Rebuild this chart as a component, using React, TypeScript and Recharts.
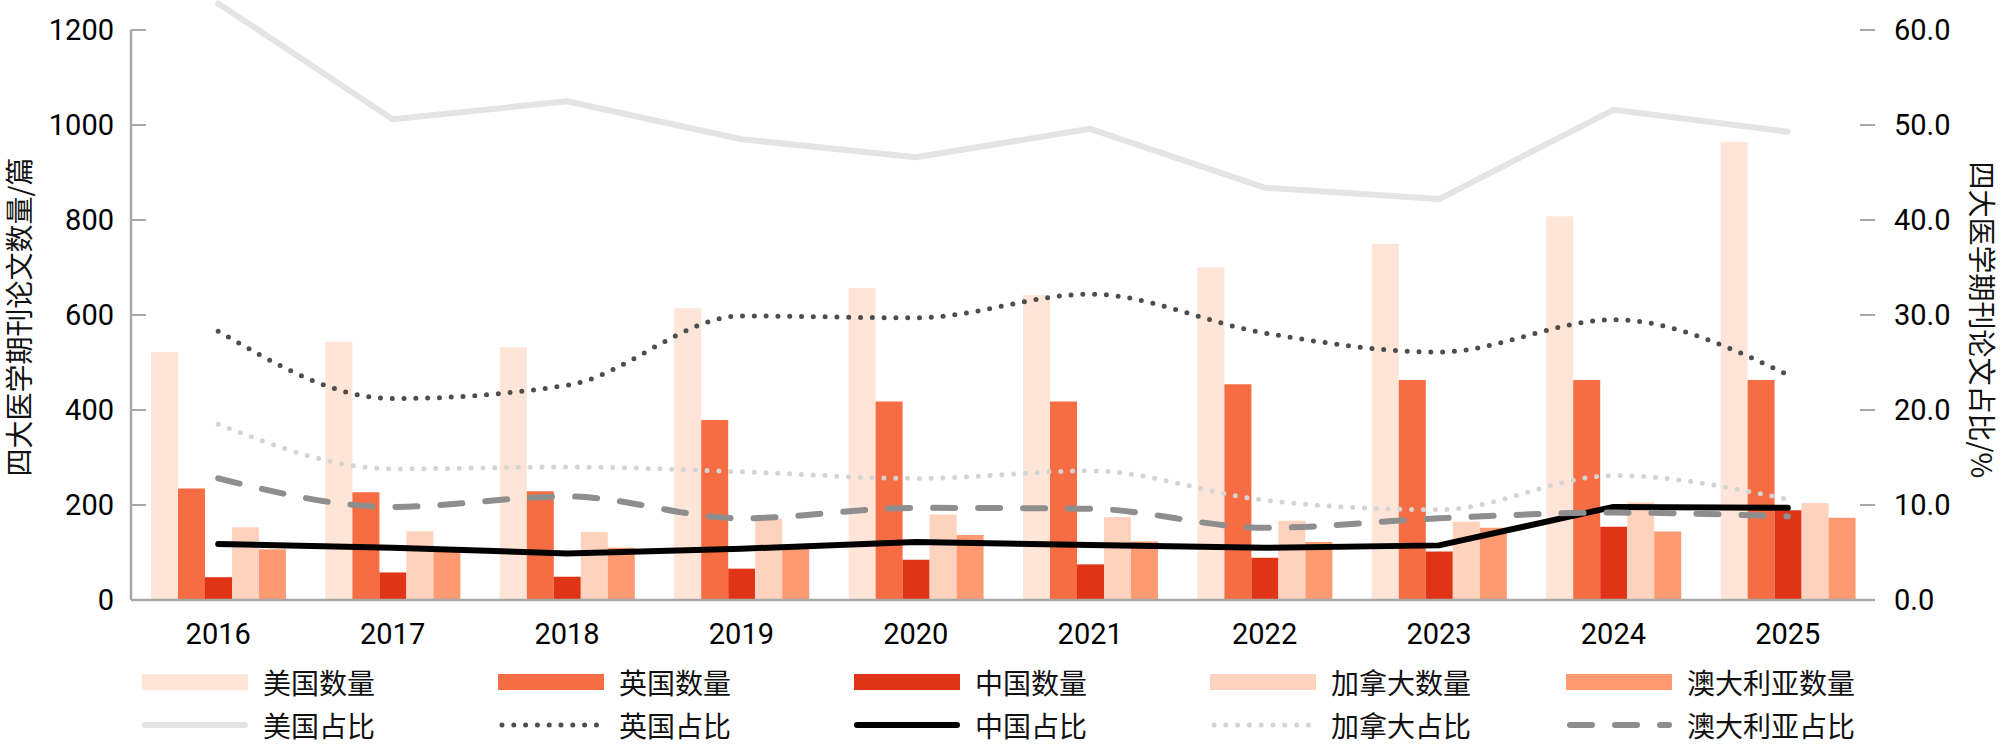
import React from 'react';
import {
  ComposedChart,
  Bar,
  Line,
  XAxis,
  YAxis,
  Legend,
  ReferenceLine,
} from 'recharts';

// 年份
const years = ['2016', '2017', '2018', '2019', '2020', '2021', '2022', '2023', '2024', '2025'];

// 四大医学期刊论文数量/篇
const usCount = [522, 543, 532, 614, 657, 642, 700, 750, 808, 964];
const ukCount = [235, 227, 229, 379, 418, 418, 454, 463, 463, 463];
const cnCount = [48, 58, 49, 66, 85, 75, 89, 102, 154, 189];
const caCount = [153, 145, 143, 171, 180, 175, 167, 165, 206, 204];
const auCount = [107, 103, 110, 109, 137, 123, 122, 152, 144, 173];

// 四大医学期刊论文占比/%
const usShare = [62.8, 50.6, 52.5, 48.5, 46.6, 49.6, 43.4, 42.2, 51.6, 49.3];
const ukShare = [28.3, 21.2, 22.6, 29.9, 29.7, 32.2, 28.1, 26.1, 29.5, 23.7];
const cnShare = [5.9, 5.5, 4.9, 5.4, 6.1, 5.8, 5.5, 5.75, 9.8, 9.7];
const caShare = [18.5, 13.8, 14.0, 13.5, 12.8, 13.6, 10.5, 9.5, 13.1, 10.6];
const auShare = [12.8, 9.8, 10.9, 8.6, 9.7, 9.6, 7.6, 8.6, 9.2, 8.8];

const countTicks = [0, 200, 400, 600, 800, 1000, 1200];
const shareTicks = [0, 10, 20, 30, 40, 50, 60];

const data = years.map((year, i) => ({
  year,
  usCount: usCount[i],
  ukCount: ukCount[i],
  cnCount: cnCount[i],
  caCount: caCount[i],
  auCount: auCount[i],
  usShare: usShare[i],
  ukShare: ukShare[i],
  cnShare: cnShare[i],
  caShare: caShare[i],
  auShare: auShare[i],
}));

const bars = [
  { key: 'usCount', name: '美国数量', fill: '#fee5d8' },
  { key: 'ukCount', name: '英国数量', fill: '#f76d43' },
  { key: 'cnCount', name: '中国数量', fill: '#e03417' },
  { key: 'caCount', name: '加拿大数量', fill: '#fed3bd' },
  { key: 'auCount', name: '澳大利亚数量', fill: '#fd9a72' },
];

const lines = [
  { key: 'usShare', name: '美国占比', stroke: '#e3e4e3', width: 6, dash: undefined, curve: 'linear' },
  { key: 'ukShare', name: '英国占比', stroke: '#4d4d4d', width: 5, dash: '0 11.8', curve: 'monotone' },
  { key: 'cnShare', name: '中国占比', stroke: '#000000', width: 6, dash: undefined, curve: 'linear' },
  { key: 'caShare', name: '加拿大占比', stroke: '#d4d4d4', width: 5, dash: '0 11.8', curve: 'monotone' },
  { key: 'auShare', name: '澳大利亚占比', stroke: '#8e8e8e', width: 6, dash: '22 23', curve: 'monotone' },
];

const W = 2001;
const H = 746;
const NUM_FONT = 'Roboto, "Liberation Sans", sans-serif';
const CJK_FONT = '"Noto Sans CJK SC", "Noto Sans", sans-serif';
const AXIS_GREY = '#a8a8a8';

// plot spans y 0..600 while the ticks stop at 1200 / 60 (y = 30)
const countMax = (1200 * 600) / 570;
const shareMax = (60 * 600) / 570;

// vertical titles laid out top-to-bottom with sideways glyphs
const verticalStyle: React.CSSProperties = {
  writingMode: 'vertical-rl',
  textOrientation: 'sideways',
};

const LeftTitle = ({ viewBox }: any) => {
  const cx = viewBox.x + 18;
  const cy = viewBox.y + viewBox.height / 2 + 17;
  return (
    <text
      x={cx}
      y={cy}
      style={verticalStyle}
      transform={`rotate(180 ${cx} ${cy})`}
      textAnchor="middle"
      dominantBaseline="central"
      fontFamily={CJK_FONT}
      fontSize={28}
      fill="#111"
    >
      四大医学期刊论文数量/篇
    </text>
  );
};

const RightTitle = ({ viewBox }: any) => {
  const cx = viewBox.x + 108;
  const cy = viewBox.y + viewBox.height / 2 + 20;
  return (
    <text
      x={cx}
      y={cy}
      style={verticalStyle}
      textAnchor="middle"
      dominantBaseline="central"
      fontFamily={CJK_FONT}
      fontSize={28}
      fill="#111"
    >
      四大医学期刊论文占比/%
    </text>
  );
};

const Swatch = ({ item, isBar }: any) => (
  <svg width={106} height={16} style={{ display: 'block', overflow: 'visible' }}>
    {isBar ? (
      <rect x={0} y={0} width={106} height={16} fill={item.fill} />
    ) : (
      <line
        x1={item.dash ? 4 : 3}
        y1={8}
        x2={103}
        y2={8}
        stroke={item.stroke}
        strokeWidth={item.width}
        strokeDasharray={item.dash}
        strokeLinecap="round"
      />
    )}
  </svg>
);

const renderLegend = () => {
  const row = (items: any[], isBar: boolean) => (
    <div style={{ display: 'flex', height: 43, alignItems: 'center' }}>
      {items.map((item) => (
        <div key={item.key} style={{ width: 356, display: 'flex', alignItems: 'center' }}>
          <Swatch item={item} isBar={isBar} />
          <span
            style={{
              marginLeft: 15,
              fontFamily: CJK_FONT,
              fontSize: 28,
              lineHeight: '30px',
              color: '#111',
            }}
          >
            {item.name}
          </span>
        </div>
      ))}
    </div>
  );
  return (
    <div style={{ height: 86, paddingLeft: 142, boxSizing: 'border-box' }}>
      {row(bars, true)}
      {row(lines, false)}
    </div>
  );
};

export default function App() {
  return (
    <div style={{ position: 'absolute', left: 0, top: 0, width: W, height: H, background: '#fff' }}>
      <ComposedChart
        width={W}
        height={H}
        data={data}
        margin={{ top: 0, right: 0, bottom: 0, left: 0 }}
        barCategoryGap={20}
        barGap={0}
      >
        <XAxis
          dataKey="year"
          height={60}
          axisLine={{ stroke: AXIS_GREY, strokeWidth: 2.5 }}
          tickLine={false}
          tickSize={6}
          tickMargin={17}
          tick={{ fill: '#000', fontSize: 29, fontFamily: NUM_FONT }}
        />
        <YAxis
          yAxisId="left"
          orientation="left"
          width={131}
          domain={[0, countMax]}
          ticks={countTicks}
          axisLine={false}
          tickLine={{ stroke: AXIS_GREY, strokeWidth: 2 }}
          tickSize={-15}
          tickMargin={32}
          tick={{ fill: '#000', fontSize: 29, fontFamily: NUM_FONT }}
          label={<LeftTitle />}
        />
        <YAxis
          yAxisId="right"
          orientation="right"
          width={126}
          domain={[0, shareMax]}
          ticks={shareTicks}
          tickFormatter={(v: number) => v.toFixed(1)}
          axisLine={false}
          tickLine={{ stroke: AXIS_GREY, strokeWidth: 2 }}
          tickSize={-15}
          tickMargin={34}
          tick={{ fill: '#000', fontSize: 29, fontFamily: NUM_FONT }}
          label={<RightTitle />}
        />
        <ReferenceLine
          yAxisId="left"
          segment={[
            { x: years[0], y: 0 },
            { x: years[0], y: 1200 },
          ]}
          position="start"
          stroke={AXIS_GREY}
          strokeWidth={2.5}
        />
        <ReferenceLine
          yAxisId="right"
          segment={[
            { x: years[years.length - 1], y: 0 },
            { x: years[years.length - 1], y: 60 },
          ]}
          position="end"
          stroke={AXIS_GREY}
          strokeWidth={2.5}
        />
        {bars.map((b) => (
          <Bar
            key={b.key}
            yAxisId="left"
            dataKey={b.key}
            name={b.name}
            fill={b.fill}
            isAnimationActive={false}
          />
        ))}
        {lines.map((l) => (
          <Line
            key={l.key}
            yAxisId="right"
            type={l.curve as any}
            dataKey={l.key}
            name={l.name}
            stroke={l.stroke}
            strokeWidth={l.width}
            strokeDasharray={l.dash}
            strokeLinecap="round"
            strokeLinejoin="round"
            dot={false}
            activeDot={false}
            isAnimationActive={false}
          />
        ))}
        <Legend verticalAlign="bottom" content={renderLegend} wrapperStyle={{ height: 86 }} />
      </ComposedChart>
    </div>
  );
}
